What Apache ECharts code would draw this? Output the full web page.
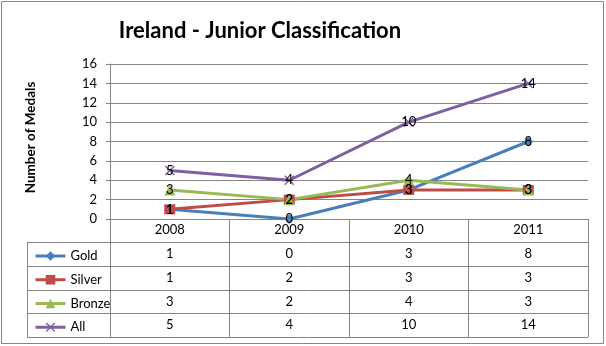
<!DOCTYPE html>
<html><head><meta charset="utf-8">
<script src="https://cdn.jsdelivr.net/npm/echarts@6/dist/echarts.min.js"></script>
<style>html,body{margin:0;padding:0;background:#fff}#c{width:606px;height:346px}</style>
</head><body><div id="c"></div>
<script>
const categories = ['2008', '2009', '2010', '2011'];
const seriesNames = ['Gold', 'Silver', 'Bronze', 'All'];
const gold = [1, 0, 3, 8];
const silver = [1, 2, 3, 3];
const bronze = [3, 2, 4, 3];
const all = [5, 4, 10, 14];
const yTicks = { min: 0, max: 16, interval: 2 };

const FONT = 'Lato, "Open Sans", sans-serif';
const GRID = '#868686';
const colors = ['#4A7EBB', '#BE4B48', '#98B954', '#7D60A0'];
const symbols = ['diamond', 'rect', 'triangle',
  'path://M0,1L1,0L5,4L9,0L10,1L6,5L10,9L9,10L5,6L1,10L0,9L4,5Z'];
const symbolSizes = [10, [11, 10], 11, 10];
const values = [gold, silver, bronze, all];

const chart = echarts.init(document.getElementById('c'), null, { renderer: 'canvas' });

const series = seriesNames.map((name, i) => ({
  name, type: 'line', data: values[i],
  symbol: symbols[i], symbolSize: symbolSizes[i],
  lineStyle: { color: colors[i], width: 3 },
  itemStyle: { color: colors[i] },
  label: { show: true, position: 'inside', color: '#000', fontSize: 13, fontFamily: FONT },
  emphasis: { disabled: true },
  animation: false
}));

chart.setOption({
  animation: false,
  backgroundColor: '#fff',
  title: {
    text: 'Ireland - Junior Classification', left: 255, top: 15, textAlign: 'center',
    textStyle: { fontFamily: FONT, fontSize: 22, fontWeight: 'bold', color: '#000' }
  },
  grid: { left: 110, right: 18, top: 64, bottom: 127, containLabel: false },
  legend: {
    orient: 'vertical', left: 29, top: 244, itemWidth: 30, itemHeight: 12, itemGap: 9.75,
    lineStyle: { width: 3 },
    textStyle: { fontFamily: FONT, fontSize: 13, color: '#000', lineHeight: 14 },
    data: seriesNames
  },
  xAxis: {
    type: 'category', data: categories, boundaryGap: true,
    axisLine: { lineStyle: { color: GRID, width: 1 } },
    axisTick: { show: true, length: 118, lineStyle: { color: GRID, width: 1 } },
    axisLabel: { margin: 4, fontFamily: FONT, fontSize: 13, color: '#000' }
  },
  yAxis: {
    type: 'value', min: yTicks.min, max: yTicks.max, interval: yTicks.interval,
    name: 'Number of Medals', nameLocation: 'middle', nameGap: 72, nameRotate: 90,
    nameTextStyle: { fontFamily: FONT, fontSize: 13.5, fontWeight: 'bold', color: '#000', padding: [0, 0, 0, 8] },
    axisLine: { show: true, lineStyle: { color: GRID, width: 1 } },
    axisTick: { show: true, length: 4, lineStyle: { color: GRID } },
    splitLine: { lineStyle: { color: GRID, width: 1 } },
    axisLabel: { margin: 13, fontFamily: FONT, fontSize: 13, color: '#000' }
  },
  series
});

// Build the data table from the axis scales
const cx = categories.map(c => chart.convertToPixel({ xAxisIndex: 0 }, c));
const cellW = cx[1] - cx[0];
const gRight = cx[cx.length - 1] + cellW / 2;
const y0 = chart.convertToPixel({ yAxisIndex: 0 }, 0);
const headerH = 23;
const rowH = 23.75;
const tableLeft = 27;
const graphics = [];
const rowTop = k => y0 + headerH + k * rowH;
for (let k = 0; k <= seriesNames.length; k++) {
  const y = Math.round(rowTop(k)) + 0.5;
  graphics.push({ type: 'line', shape: { x1: tableLeft, y1: y, x2: gRight, y2: y },
    style: { stroke: GRID, lineWidth: 1 }, silent: true });
}
graphics.push({ type: 'line', shape: { x1: tableLeft + 0.5, y1: Math.round(rowTop(0)) + 0.5,
  x2: tableLeft + 0.5, y2: Math.round(rowTop(seriesNames.length)) + 0.5 },
  style: { stroke: GRID, lineWidth: 1 }, silent: true });
seriesNames.forEach((name, k) => {
  values[k].forEach((v, j) => {
    graphics.push({ type: 'text', x: cx[j], y: rowTop(k) + rowH / 2,
      style: { text: String(v), fill: '#000', font: '13px ' + FONT, align: 'center', verticalAlign: 'middle' },
      silent: true });
  });
});
graphics.push({ type: 'rect', shape: { x: 1.5, y: 1.5, width: 602, height: 342 },
  style: { fill: null, stroke: GRID, lineWidth: 1 }, silent: true });
chart.setOption({ graphic: graphics });
</script></body></html>
